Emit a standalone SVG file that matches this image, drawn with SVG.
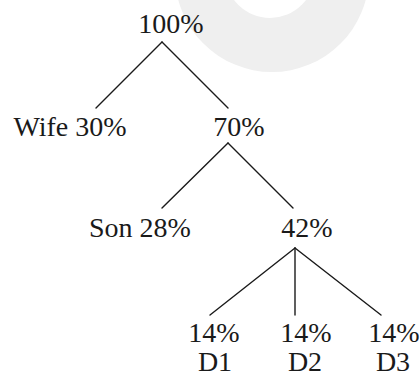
<svg xmlns="http://www.w3.org/2000/svg" width="420" height="377" viewBox="0 0 420 377">
<style>
.t{font-family:'Liberation Serif','Times New Roman',serif;font-size:28px;fill:#1a1a1a;text-anchor:middle}
.c line{stroke:#1a1a1a;stroke-width:1.4;stroke-linecap:round}
</style>
<rect width="420" height="377" fill="#ffffff"/>
<path d="M175,-25 a97,97 0 1,0 194,0 a97,97 0 1,0 -194,0 Z M225,-27 a45,45 0 1,1 90,0 a45,45 0 1,1 -90,0 Z" fill="#efefef" fill-rule="evenodd"/>
<g class="c" id="connectors">
<line x1="162" y1="42" x2="96" y2="108"/>
<line x1="162" y1="42" x2="228" y2="108"/>
<line x1="228" y1="143" x2="162" y2="208"/>
<line x1="228" y1="143" x2="293" y2="208"/>
<line x1="295" y1="248" x2="210" y2="315"/>
<line x1="295" y1="248" x2="295" y2="315"/>
<line x1="295" y1="248" x2="381" y2="315"/>
</g>
<g id="n-root"><text class="t" x="171" y="33">100%</text></g>
<g id="n-wife"><text class="t" x="70" y="136">Wife 30%</text></g>
<g id="n-70"><text class="t" x="239" y="136">70%</text></g>
<g id="n-son"><text class="t" x="140" y="237">Son 28%</text></g>
<g id="n-42"><text class="t" x="307" y="237">42%</text></g>
<g id="n-d1"><text class="t" x="214" y="342">14%</text><text class="t" x="215" y="371">D1</text></g>
<g id="n-d2"><text class="t" x="306" y="342">14%</text><text class="t" x="305" y="371">D2</text></g>
<g id="n-d3"><text class="t" x="394" y="342">14%</text><text class="t" x="393" y="371">D3</text></g>
</svg>
